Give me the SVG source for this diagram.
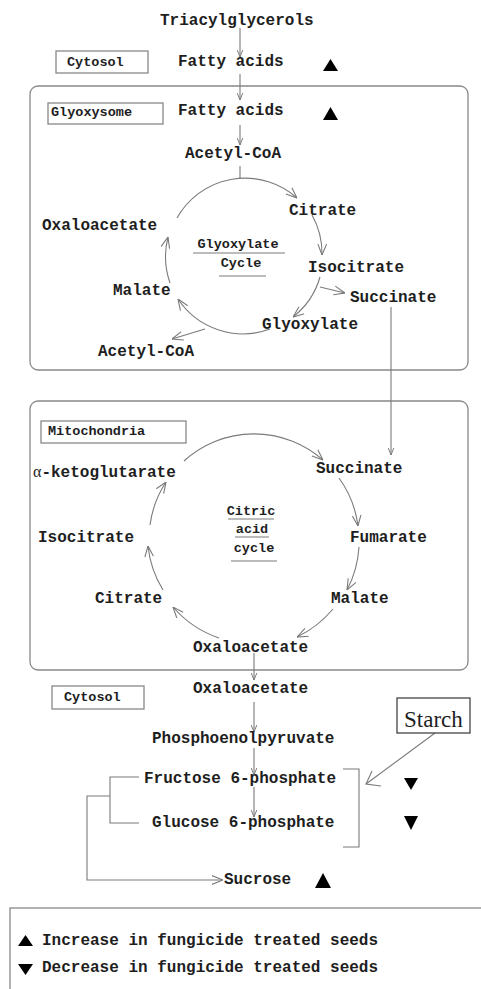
<svg xmlns="http://www.w3.org/2000/svg" width="481" height="989" viewBox="0 0 481 989">
<style>
.t{font-family:"Liberation Mono","Courier New",monospace;font-weight:bold;font-size:16px;fill:#1e1e1e}
.s{font-family:"Liberation Mono","Courier New",monospace;font-weight:bold;font-size:13.5px;fill:#1e1e1e}
.c{text-anchor:middle}
.box{fill:none;stroke:#888;stroke-width:1.3}
.ln{fill:none;stroke:#7a7a7a;stroke-width:1.1}
.ar{fill:none;stroke:#7a7a7a;stroke-width:1.1;marker-end:url(#a)}
.ab{fill:none;stroke:#7a7a7a;stroke-width:1.1;marker-end:url(#b)}
.tri{fill:#000}
</style>
<defs>
<marker id="a" viewBox="0 0 10 10" refX="10" refY="5" markerWidth="7" markerHeight="7" markerUnits="userSpaceOnUse" orient="auto">
<path d="M0,1 L10,5 L0,9" fill="none" stroke="#7a7a7a" stroke-width="1.4"/>
</marker>
<marker id="b" viewBox="0 0 10 10" refX="10" refY="5" markerWidth="11" markerHeight="11" markerUnits="userSpaceOnUse" orient="auto">
<path d="M0,1 L10,5 L0,9" fill="none" stroke="#7a7a7a" stroke-width="1"/>
</marker>
</defs>

<g id="compartments">
<rect id="glyoxysome-box" class="box" x="30" y="86" width="438" height="284" rx="8"/>
<rect id="mito-box" class="box" x="30" y="401" width="438" height="269" rx="8"/>
<rect id="legend-box" class="box" x="10" y="908" width="490" height="100"/>
</g>

<g id="connectors">
<line class="ar" x1="240" y1="28" x2="240" y2="57"/>
<line class="ar" x1="240" y1="74" x2="240" y2="100"/>
<line class="ar" x1="240" y1="125" x2="240" y2="145"/>
<line class="ln" x1="240" y1="166" x2="240" y2="179"/>
<!-- glyoxylate cycle -->
<path class="ab" d="M177,218 A78,78 0 0 1 297,198"/>
<path class="ab" d="M312,215 A78,78 0 0 1 322,255"/>
<path class="ab" d="M320,277 A78,78 0 0 1 293,317"/>
<path class="ab" d="M270,329 A78,78 0 0 1 178,299"/>
<path class="ab" d="M170,283 A80,80 0 0 1 168,237"/>
<line class="ab" x1="320" y1="287" x2="345" y2="293"/>
<line class="ab" x1="205" y1="329" x2="172" y2="339"/>
<line class="ar" x1="391" y1="307" x2="391" y2="455"/>
<!-- citric acid cycle -->
<path class="ab" d="M184,461 A104,104 0 0 1 323,460"/>
<path class="ab" d="M339,478 A105,105 0 0 1 358,526"/>
<path class="ab" d="M359,547 A106,106 0 0 1 347,590"/>
<path class="ab" d="M333,609 A108,108 0 0 1 297,637"/>
<path class="ab" d="M219,638 A106,106 0 0 1 173,607"/>
<path class="ab" d="M163,590 A105,105 0 0 1 148,546"/>
<path class="ab" d="M150,525 A104,104 0 0 1 166,482"/>
<!-- cytosol -->
<line class="ar" x1="254" y1="653" x2="254" y2="680"/>
<line class="ar" x1="254" y1="702" x2="254" y2="732"/>
<line class="ar" x1="254" y1="748" x2="254" y2="775"/>
<line class="ar" x1="254" y1="787" x2="254" y2="817"/>
<polyline class="ln" points="139,777 110,777 110,823 139,823"/>
<polyline class="ab" points="110,796 87,796 87,880 223,880"/>
<polyline class="ln" points="343,769 359,769 359,847 343,847"/>
<line class="ln" x1="435" y1="733" x2="366" y2="784"/>
<polyline class="ln" points="372,771 366,784 381,786"/>
</g>

<g id="labels">
<g id="cytosol1"><rect class="box" x="56" y="51" width="92" height="22"/><text class="s" x="67" y="66">Cytosol</text></g>
<g id="glyoxysome-label"><rect class="box" x="48" y="103" width="115" height="21"/><text class="s" x="51" y="116">Glyoxysome</text></g>
<g id="mito-label"><rect class="box" x="41" y="421" width="145" height="22"/><text class="s" x="48" y="435">Mitochondria</text></g>
<g id="cytosol2"><rect class="box" x="52" y="686" width="92" height="23"/><text class="s" x="64" y="701">Cytosol</text></g>
</g>

<g id="n-tag"><text class="t" x="160" y="25">Triacylglycerols</text></g>
<g id="n-fa1"><text class="t" x="178" y="66">Fatty acids</text><polygon class="tri" points="323,71 338,71 330.5,59"/></g>
<g id="n-fa2"><text class="t" x="178" y="115">Fatty acids</text><polygon class="tri" points="323,120 338,120 330.5,107"/></g>
<g id="n-acoa1"><text class="t" x="185" y="158">Acetyl-CoA</text></g>
<g id="n-cit1"><text class="t" x="289" y="215">Citrate</text></g>
<g id="n-oaa1"><text class="t" x="42" y="230">Oxaloacetate</text></g>
<g id="n-iso1"><text class="t" x="308" y="272">Isocitrate</text></g>
<g id="n-mal1"><text class="t" x="113" y="295">Malate</text></g>
<g id="n-suc1"><text class="t" x="350" y="302">Succinate</text></g>
<g id="n-gly"><text class="t" x="262" y="329">Glyoxylate</text></g>
<g id="n-acoa2"><text class="t" x="98" y="356">Acetyl-CoA</text></g>
<g id="glyoxylate-cycle-label">
<text class="s c" x="238" y="248">Glyoxylate</text><line class="ln" x1="193" y1="253" x2="285" y2="253"/>
<text class="s c" x="241" y="267">Cycle</text><line class="ln" x1="219" y1="276" x2="266" y2="276"/>
</g>

<g id="n-akg"><text class="t" x="33" y="477"><tspan style="font-family:'Liberation Serif',serif;font-weight:normal">α</tspan>-ketoglutarate</text></g>
<g id="n-suc2"><text class="t" x="316" y="473">Succinate</text></g>
<g id="n-iso2"><text class="t" x="38" y="542">Isocitrate</text></g>
<g id="n-fum"><text class="t" x="350" y="542">Fumarate</text></g>
<g id="n-cit2"><text class="t" x="95" y="603">Citrate</text></g>
<g id="n-mal2"><text class="t" x="331" y="603">Malate</text></g>
<g id="n-oaa2"><text class="t" x="193" y="652">Oxaloacetate</text></g>
<g id="citric-cycle-label">
<text class="s c" x="251" y="515">Citric</text><line class="ln" x1="228" y1="519" x2="274" y2="519"/>
<text class="s c" x="252" y="533">acid</text><line class="ln" x1="235" y1="537" x2="269" y2="537"/>
<text class="s c" x="254" y="552">cycle</text><line class="ln" x1="231" y1="561" x2="277" y2="561"/>
</g>

<g id="n-oaa3"><text class="t" x="193" y="693">Oxaloacetate</text></g>
<g id="n-pep"><text class="t" x="152" y="743">Phosphoenolpyruvate</text></g>
<g id="n-f6p"><text class="t" x="144" y="783">Fructose 6-phosphate</text><polygon class="tri" points="404,778 418,778 411,790"/></g>
<g id="n-g6p"><text class="t" x="152" y="827">Glucose 6-phosphate</text><polygon class="tri" points="404,816 418,816 411,830"/></g>
<g id="n-suc"><text class="t" x="224" y="884">Sucrose</text><polygon class="tri" points="315,888 331,888 323,873"/></g>
<g id="n-starch"><rect class="box" x="397" y="698" width="73" height="35" style="stroke:#444"/><text x="404" y="727" style="font-family:'Liberation Serif','Times New Roman',serif;font-size:23px;fill:#1e1e1e">Starch</text></g>

<g id="legend">
<polygon class="tri" points="18,946 33,946 25.5,935"/>
<text class="t" x="42" y="945">Increase in fungicide treated seeds</text>
<polygon class="tri" points="18,964 33,964 25.5,975"/>
<text class="t" x="42" y="972">Decrease in fungicide treated seeds</text>
</g>
</svg>
